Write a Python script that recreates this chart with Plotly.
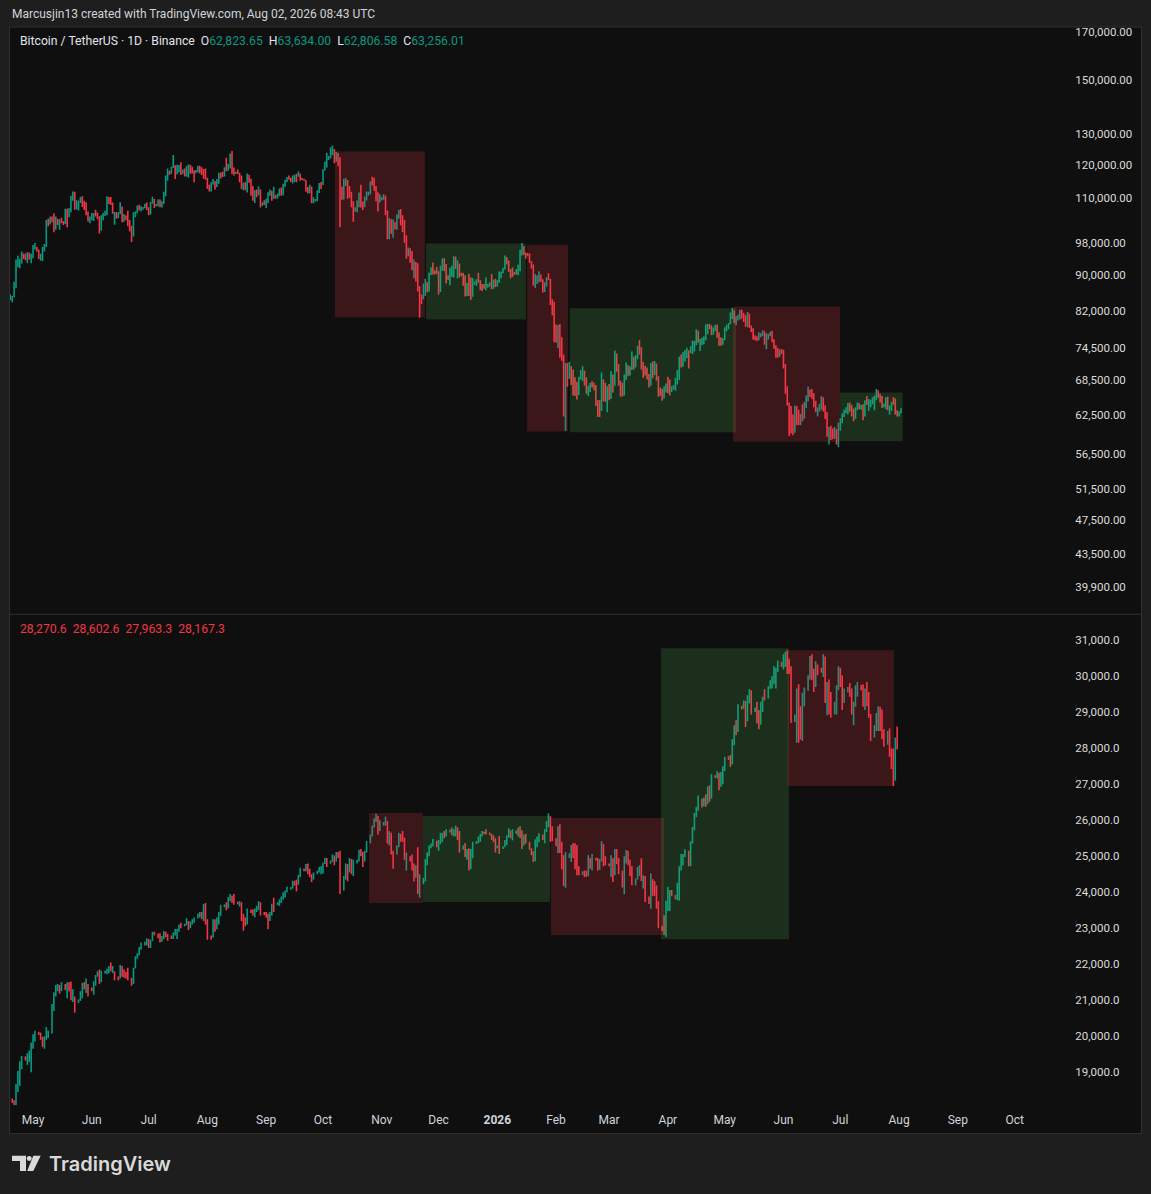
import numpy as np
import pandas as pd
import plotly.graph_objects as go

W, H = 1151, 1194

# ---------------------------------------------------------------
# Bitcoin / TetherUS, 1D, Binance   (thousands of USDT)
# one bar per day from 2025-04-19 to 2026-08-02, open = prior close
# ---------------------------------------------------------------
btc_start = "2025-04-19"
btc_first_open = 84.45

btc_close = [
    85.1, 85.2, 87.5, 93.4, 93.7, 93.9, 94.7, 94.6, 93.7, 95.0, 94.2, 94.3,
    96.5, 96.9, 95.9, 94.3, 94.7, 96.8, 97.0, 103.2, 102.9, 104.6, 104.1, 102.8, 104.1, 103.5, 103.7, 103.5, 103.1, 106.4, 105.6, 106.8, 109.7, 111.7, 107.3, 107.8, 109.0, 109.4, 108.9, 107.8, 105.6, 103.9, 104.6,
    105.7, 105.8, 105.4, 104.7, 101.5, 104.4, 105.6, 105.7, 110.3, 110.2, 108.6, 105.9, 106.0, 105.4, 105.6, 107.0, 104.6, 104.8, 104.6, 103.3, 102.1, 100.9, 105.4, 106.0, 107.3, 106.9, 107.1, 107.3, 108.4, 107.1,
    105.7, 108.8, 109.6, 108.0, 108.2, 109.2, 108.3, 108.9, 111.3, 115.9, 117.5, 117.4, 119.1, 119.8, 117.7, 118.7, 119.3, 117.9, 118.0, 117.3, 117.4, 119.9, 118.8, 118.4, 117.6, 117.9, 119.4, 118.0, 117.9, 117.8, 115.8,
    113.3, 112.5, 114.2, 115.0, 114.1, 115.0, 117.5, 116.6, 116.5, 119.3, 118.7, 120.2, 123.3, 118.3, 117.4, 117.5, 117.4, 116.2, 112.9, 114.3, 112.5, 116.9, 115.4, 113.5, 110.1, 111.8, 111.3, 112.6, 108.4, 108.8, 108.3,
    109.2, 111.2, 111.7, 110.7, 110.8, 110.2, 111.1, 112.1, 111.5, 113.9, 115.5, 116.1, 115.9, 115.3, 115.4, 116.8, 116.4, 117.1, 115.7, 115.6, 115.3, 112.7, 112.0, 113.3, 109.0, 109.6, 109.7, 112.1, 114.4, 114.0,
    118.6, 120.5, 122.2, 122.4, 123.5, 124.7, 121.4, 123.3, 121.7, 113.2, 110.6, 115.2, 115.3, 113.0, 110.7, 108.2, 106.4, 107.2, 108.6, 110.5, 108.4, 107.6, 110.1, 111.0, 111.6, 114.5, 114.1, 112.9, 110.0, 108.3, 109.6,
    110.1, 110.5, 106.5, 101.5, 103.9, 101.3, 103.3, 102.3, 104.7, 106.0, 103.0, 101.6, 99.7, 94.6, 95.5, 94.2, 92.2, 92.9, 91.5, 86.6, 85.1, 84.7, 86.8, 88.3, 87.3, 90.5, 91.3, 90.9, 90.8, 90.4,
    86.3, 91.3, 93.5, 92.1, 89.4, 89.3, 90.4, 90.6, 92.7, 92.0, 92.5, 90.3, 90.2, 88.2, 86.4, 87.8, 86.1, 85.5, 88.1, 88.3, 88.6, 88.5, 87.6, 87.5, 87.3, 87.4, 87.8, 87.9, 87.1, 88.4, 87.6,
    88.7, 90.0, 90.6, 91.5, 93.9, 93.7, 91.3, 91.0, 90.5, 90.4, 90.8, 91.2, 95.4, 97.0, 95.6, 95.4, 95.0, 93.5, 92.4, 88.3, 89.6, 89.9, 90.2, 89.0, 86.6, 88.0, 89.5, 89.2, 84.5, 83.7, 78.6,
    76.9, 78.6, 75.9, 73.0, 62.9, 70.5, 69.3, 70.6, 68.9, 67.3, 66.2, 66.0, 68.8, 69.8, 70.0, 68.6, 66.5, 66.9, 67.7, 67.6, 67.5, 64.6, 64.2, 63.2, 68.4, 67.4, 65.5, 66.8,
    65.9, 69.3, 68.0, 72.7, 70.9, 68.2, 67.6, 66.1, 68.5, 70.7, 70.0, 70.6, 72.3, 71.0, 72.6, 74.3, 73.9, 71.1, 69.8, 69.6, 69.0, 67.8, 70.9, 69.5, 71.3, 68.9, 66.4, 66.1, 65.5, 66.9, 67.6,
    66.7, 66.5, 67.1, 67.4, 68.5, 69.8, 72.2, 71.5, 73.2, 73.6, 74.0, 73.6, 74.5, 75.5, 75.7, 77.7, 76.0, 76.2, 76.4, 76.6, 78.7, 78.9, 78.4, 77.6, 78.3, 78.9, 77.0, 75.6, 75.2, 76.2,
    78.2, 78.8, 79.3, 81.2, 82.0, 80.2, 80.6, 81.0, 82.0, 81.0, 80.4, 79.1, 81.3, 79.0, 77.9, 76.7, 76.3, 76.1, 77.2, 77.3, 77.7, 75.9, 76.9, 77.1, 77.5, 76.0, 74.8, 73.1, 72.9, 73.9, 73.5,
    71.2, 66.8, 64.9, 60.5, 60.2, 59.8, 63.4, 61.6, 61.2, 62.4, 62.0, 64.2, 65.3, 66.6, 66.0, 65.6, 64.3, 63.4, 63.6, 64.1, 65.2, 63.6, 62.5, 59.7, 60.3, 59.2, 59.0, 60.1, 58.6, 60.9,
    61.6, 62.5, 63.1, 63.5, 64.1, 63.6, 62.8, 62.0, 63.5, 64.3, 63.8, 64.0, 62.4, 64.6, 64.5, 64.9, 65.0, 65.3, 65.5, 66.4, 65.8, 65.0, 64.0, 64.2, 65.2, 63.8, 64.0, 64.5, 64.4, 63.2, 62.6,
    62.82365, 63.25601,
]
btc_high = [
    85.6, 85.3, 88.5, 93.8, 94.7, 94.0, 95.8, 95.3, 95.3, 95.6, 95.5, 95.2,
    97.4, 97.9, 96.9, 96.3, 95.2, 96.9, 97.7, 104.0, 104.3, 104.9, 104.9, 105.8, 104.9, 104.3, 104.2, 104.6, 103.7, 107.1, 107.1, 107.3, 110.8, 112.0, 111.9, 109.5, 109.3, 110.4, 110.7, 109.3, 108.9, 106.3, 104.9,
    105.9, 105.9, 106.8, 106.0, 105.0, 105.3, 105.9, 106.5, 110.6, 110.4, 110.4, 108.8, 106.2, 106.2, 106.1, 108.9, 107.7, 105.6, 105.2, 106.5, 104.0, 102.4, 106.1, 106.3, 108.0, 108.2, 107.8, 107.6, 108.5, 108.8,
    107.5, 109.0, 110.5, 109.8, 108.4, 109.7, 109.7, 109.2, 111.9, 116.8, 118.9, 118.2, 119.5, 123.2, 119.9, 120.1, 120.0, 120.9, 118.6, 118.9, 119.7, 120.2, 120.1, 119.5, 118.4, 118.5, 119.8, 119.8, 119.3, 118.8, 118.9,
    116.1, 114.0, 114.7, 115.7, 115.1, 115.7, 117.6, 117.7, 117.9, 119.3, 122.3, 120.3, 123.7, 124.5, 119.2, 117.9, 118.6, 117.6, 116.8, 114.6, 114.8, 117.4, 117.0, 115.8, 113.6, 112.4, 112.6, 113.5, 112.6, 108.9, 109.5,
    109.9, 111.8, 112.6, 112.2, 113.4, 111.0, 111.4, 112.9, 113.2, 114.3, 115.5, 116.3, 116.8, 116.1, 116.8, 117.0, 117.3, 118.0, 117.4, 116.0, 115.8, 115.4, 113.3, 114.0, 113.5, 110.3, 109.8, 112.4, 114.5, 114.8,
    118.7, 121.0, 123.9, 122.9, 125.7, 126.2, 125.1, 124.2, 123.8, 122.5, 113.5, 115.8, 116.0, 115.4, 113.6, 111.9, 109.2, 107.5, 109.4, 111.7, 114.0, 109.1, 110.5, 112.0, 111.9, 115.0, 116.4, 116.1, 113.6, 111.8, 111.2,
    110.5, 111.2, 110.8, 106.6, 104.5, 104.2, 104.1, 103.4, 105.5, 106.7, 107.0, 105.3, 104.0, 99.9, 96.8, 96.6, 95.9, 93.8, 93.2, 92.9, 87.5, 85.6, 88.1, 89.2, 88.4, 90.6, 91.9, 93.1, 91.2, 92.0,
    91.0, 92.3, 94.1, 94.1, 92.7, 90.0, 91.8, 92.3, 94.6, 94.5, 93.6, 92.8, 90.6, 90.6, 90.0, 88.2, 90.4, 89.5, 89.4, 88.6, 89.1, 90.6, 88.9, 88.0, 88.0, 89.5, 88.0, 88.4, 90.3, 89.0, 89.2,
    88.9, 90.9, 90.9, 91.8, 94.8, 94.4, 93.6, 91.5, 91.9, 90.8, 91.5, 92.5, 96.2, 97.9, 97.1, 95.5, 95.4, 95.3, 93.4, 92.6, 90.3, 90.0, 91.0, 90.2, 89.1, 88.4, 89.6, 90.5, 89.2, 84.6, 84.0,
    79.2, 79.0, 79.3, 76.6, 73.2, 71.6, 71.6, 71.8, 71.0, 70.4, 69.0, 68.2, 69.1, 70.3, 71.0, 70.2, 69.0, 67.5, 68.0, 68.3, 68.0, 67.6, 65.0, 65.0, 69.9, 68.6, 68.0, 67.4,
    67.8, 70.1, 69.5, 74.0, 73.4, 71.4, 68.4, 68.0, 69.5, 71.7, 71.2, 71.0, 73.8, 72.8, 73.1, 74.9, 76.0, 74.6, 71.8, 71.1, 70.8, 69.6, 71.6, 71.9, 72.0, 71.5, 69.2, 67.2, 66.9, 67.4, 67.9,
    69.1, 68.6, 67.4, 67.6, 68.9, 70.3, 72.8, 73.2, 73.7, 74.1, 74.5, 74.0, 74.8, 75.9, 75.9, 78.2, 77.9, 76.3, 76.5, 76.8, 79.2, 79.3, 79.3, 79.0, 78.6, 79.1, 79.2, 77.6, 76.6, 76.4,
    78.6, 79.1, 79.5, 81.7, 82.7, 82.1, 80.9, 81.2, 82.3, 82.3, 81.6, 81.1, 81.8, 81.5, 79.0, 78.4, 77.0, 76.8, 77.6, 77.4, 78.0, 77.8, 77.4, 77.3, 77.7, 77.9, 76.2, 75.0, 74.5, 74.2, 74.3,
    74.1, 71.4, 67.4, 64.6, 64.0, 62.6, 64.1, 64.0, 63.4, 62.7, 64.3, 64.7, 65.8, 67.3, 66.8, 66.9, 66.2, 64.9, 63.8, 64.4, 65.7, 65.5, 64.1, 63.0, 60.6, 60.8, 60.4, 60.6, 60.3, 61.3,
    62.0, 62.8, 63.4, 63.8, 64.5, 64.6, 64.2, 63.6, 63.8, 64.6, 64.5, 64.2, 64.3, 65.0, 65.7, 65.2, 65.1, 65.5, 65.8, 66.9, 66.7, 66.1, 65.7, 64.4, 65.5, 65.6, 64.1, 64.7, 65.5, 65.3, 63.3,
    63.1, 63.634,
]
btc_low = [
    84.4, 83.9, 85.0, 87.0, 91.9, 91.7, 92.8, 93.9, 93.6, 92.9, 93.8, 92.9,
    94.1, 96.3, 95.7, 93.9, 93.5, 93.4, 95.8, 96.9, 102.3, 102.8, 103.4, 100.7, 101.4, 102.6, 101.4, 103.1, 102.6, 102.9, 102.0, 104.7, 106.1, 109.3, 106.8, 106.9, 106.6, 108.7, 107.6, 106.7, 105.3, 103.6, 103.1,
    103.9, 103.7, 104.9, 104.2, 100.4, 101.1, 103.9, 105.1, 105.3, 108.4, 108.1, 105.7, 102.7, 104.3, 104.5, 105.6, 103.4, 103.5, 103.9, 102.3, 100.9, 98.2, 99.6, 104.7, 105.8, 106.6, 106.4, 106.8, 107.2, 106.7,
    105.3, 105.5, 108.5, 107.3, 107.8, 107.8, 107.5, 107.4, 108.4, 110.6, 115.2, 116.9, 117.3, 119.1, 115.7, 117.1, 117.7, 116.9, 117.3, 116.5, 116.5, 116.1, 117.3, 117.4, 114.7, 117.5, 117.8, 117.4, 116.9, 115.8, 115.5,
    112.7, 112.0, 112.0, 114.1, 112.6, 113.3, 114.3, 115.9, 116.3, 116.5, 118.1, 118.2, 118.9, 117.2, 116.8, 117.2, 117.2, 114.7, 112.7, 112.4, 112.4, 111.7, 114.6, 110.8, 109.3, 108.7, 110.3, 110.9, 107.4, 107.9, 108.1,
    107.3, 108.7, 110.8, 109.3, 109.9, 109.9, 110.0, 110.6, 110.8, 110.9, 113.4, 114.8, 115.5, 114.8, 114.4, 114.8, 114.7, 116.4, 115.2, 115.4, 115.2, 111.9, 111.4, 111.5, 108.6, 108.6, 109.1, 109.2, 111.6, 112.7,
    113.9, 118.3, 119.2, 121.6, 122.1, 123.1, 120.6, 121.0, 119.6, 102.0, 109.6, 109.7, 113.6, 109.9, 110.2, 107.5, 103.5, 106.3, 106.1, 107.5, 107.4, 106.7, 107.5, 109.4, 110.8, 111.2, 113.8, 112.2, 109.2, 106.3, 108.8,
    109.4, 109.6, 105.3, 98.9, 98.9, 100.3, 99.3, 101.5, 101.4, 104.3, 102.5, 100.8, 98.0, 94.0, 94.6, 93.0, 91.2, 89.3, 88.6, 86.3, 80.6, 83.5, 84.6, 85.3, 86.1, 86.3, 90.1, 90.2, 90.2, 90.3,
    85.6, 86.2, 91.1, 91.0, 88.1, 88.9, 87.7, 89.6, 89.5, 91.5, 89.3, 89.5, 89.8, 87.6, 85.2, 85.3, 85.3, 84.4, 85.1, 87.8, 87.6, 88.3, 86.6, 86.4, 86.9, 86.6, 87.2, 87.4, 86.8, 86.9, 87.3,
    87.4, 88.3, 89.3, 90.5, 91.4, 92.6, 90.8, 89.3, 89.6, 90.1, 90.2, 90.0, 91.0, 94.8, 94.9, 94.0, 94.6, 93.0, 91.6, 87.6, 87.1, 88.0, 88.4, 88.5, 86.0, 86.2, 87.4, 88.9, 83.3, 81.1, 75.6,
    75.5, 74.4, 72.6, 72.0, 62.3, 60.0, 67.3, 68.7, 67.6, 65.8, 65.7, 65.1, 65.9, 68.6, 68.3, 67.5, 66.1, 65.7, 66.4, 67.2, 66.7, 64.0, 62.2, 62.2, 63.2, 64.8, 64.7, 63.0,
    65.0, 65.2, 66.3, 67.5, 70.0, 67.5, 65.6, 65.6, 65.8, 68.5, 69.2, 69.3, 70.3, 70.4, 70.8, 72.3, 73.2, 70.4, 68.9, 69.3, 68.6, 67.2, 67.5, 68.8, 69.4, 68.4, 65.6, 65.7, 64.9, 65.3, 66.3,
    66.2, 65.8, 66.4, 66.8, 66.6, 67.7, 68.5, 70.8, 70.9, 71.9, 72.5, 70.6, 73.5, 73.3, 73.8, 75.0, 75.5, 73.9, 75.0, 75.2, 76.0, 77.2, 78.2, 77.0, 77.1, 77.8, 76.5, 74.9, 74.9, 75.1,
    76.0, 77.8, 78.2, 79.2, 80.3, 79.5, 79.0, 80.0, 80.2, 80.4, 79.7, 78.7, 78.6, 78.5, 77.6, 76.1, 76.0, 75.8, 76.0, 76.6, 76.8, 75.1, 74.2, 76.1, 76.8, 75.6, 74.3, 72.6, 72.6, 72.8, 73.3,
    70.6, 66.1, 64.1, 59.2, 59.6, 59.3, 59.7, 60.9, 60.9, 60.9, 61.5, 61.9, 63.7, 64.8, 65.6, 65.2, 63.8, 63.0, 62.3, 63.1, 63.4, 63.1, 61.9, 59.1, 57.9, 58.6, 58.7, 58.8, 57.9, 57.5,
    60.0, 61.2, 62.2, 62.8, 62.6, 63.1, 62.3, 61.5, 61.9, 63.3, 63.5, 63.4, 61.7, 62.3, 64.2, 63.2, 63.8, 64.3, 63.3, 65.0, 65.4, 64.6, 63.7, 63.8, 63.5, 63.3, 62.6, 63.2, 64.2, 62.6, 62.3,
    62.3, 62.80658,
]

# ---------------------------------------------------------------
# lower pane, index CFD (thousands of points)
# six daily bars a week (Sun..Fri), 2025-04-20 to 2026-07-31
# ---------------------------------------------------------------
ndx_start, ndx_end = "2025-04-20", "2026-07-31"
ndx_first_open = 18.26

ndx_close = [
    18.20, 17.82, 18.62, 18.75, 19.25, 19.43,  19.34, 19.42, 19.55, 19.70, 19.84, 20.10,
    20.05, 19.98, 19.79, 19.87, 20.06, 20.07,  20.85, 21.15, 21.35, 21.38, 21.33, 21.45,
    21.30, 21.46, 21.38, 21.10, 21.12, 20.92,  21.00, 21.20, 21.42, 21.33, 21.37, 21.34,
    21.28, 21.49, 21.65, 21.72, 21.55, 21.76,  21.78, 21.80, 21.91, 21.86, 21.92, 21.63,
    21.60, 21.94, 21.72, 21.71, 21.70, 21.63,  21.50, 21.88, 22.19, 22.24, 22.45, 22.53,
    22.58, 22.68, 22.54, 22.64, 22.87, 22.84,  22.80, 22.69, 22.70, 22.87, 22.83, 22.78,
    22.72, 22.86, 22.88, 22.93, 23.08, 23.07,  23.08, 23.19, 23.06, 23.16, 23.22, 23.27,
    23.36, 23.37, 23.31, 23.58, 23.22, 22.76,  22.74, 23.22, 22.97, 23.27, 23.34, 23.61,
    23.62, 23.55, 23.84, 23.85, 23.84, 23.71,  23.70, 23.71, 23.38, 23.25, 23.14, 23.50,
    23.45, 23.40, 23.52, 23.58, 23.70, 23.42,  23.40, 23.35, 23.23, 23.42, 23.66, 23.65,
    23.68, 23.76, 23.84, 23.85, 24.01, 24.09,  24.10, 24.28, 24.25, 24.20, 24.42, 24.63,
    24.62, 24.76, 24.58, 24.50, 24.42, 24.50,  24.55, 24.61, 24.68, 24.79, 24.87, 24.79,
    24.84, 24.98, 24.85, 25.10, 25.03, 24.05,  24.35, 24.74, 24.58, 24.76, 24.66, 24.82,
    24.86, 25.14, 25.11, 24.87, 25.10, 25.36,  25.55, 25.82, 26.01, 26.10, 25.74, 25.86,
    25.90, 25.97, 25.44, 25.62, 25.13, 25.06,  25.25, 25.61, 25.53, 25.52, 24.99, 25.01,
    24.90, 24.80, 24.50, 24.64, 24.05, 24.24,  24.30, 24.87, 25.02, 25.24, 25.30, 25.43,
    25.30, 25.34, 25.56, 25.61, 25.58, 25.69,  25.70, 25.63, 25.67, 25.78, 25.69, 25.20,
    25.25, 25.07, 25.13, 24.65, 25.02, 25.35,  25.38, 25.46, 25.59, 25.66, 25.65, 25.64,
    25.62, 25.52, 25.46, 25.25, 25.26, 25.21,
    25.25, 25.40, 25.55, 25.70, 25.55, 25.72,  25.65, 25.75, 25.60, 25.35, 25.50, 25.40,
    25.22, 25.10, 24.90, 25.35, 25.50, 25.58,  25.55, 25.70, 25.92, 26.10, 25.60, 25.50,
    25.35, 25.70, 25.25, 24.75, 24.30, 24.95,  25.05, 25.20, 25.05, 24.80, 24.55, 24.50,
    24.55, 24.50, 24.45, 24.90, 24.70, 24.95,  24.90, 24.70, 24.85, 25.30, 24.90, 24.80,
    24.75, 24.95, 24.50, 25.05, 24.90, 24.60,  24.20, 24.90, 25.10, 24.90, 24.55, 24.25,
    24.35, 24.55, 24.62, 24.40, 24.45, 23.85,  23.82, 24.35, 24.05, 24.00, 23.65, 23.05,
    23.00, 22.90, 23.60, 23.95, 24.00, 23.92,  23.85, 24.20, 24.60, 25.00, 25.02, 25.15,
    24.80, 25.35, 25.75, 26.15, 26.30, 26.60,  26.42, 26.58, 26.45, 26.85, 26.60, 27.20,
    27.19, 27.30, 26.95, 27.25, 27.45, 27.70,  27.68, 27.55, 28.15, 28.55, 28.45, 29.15,
    29.10, 29.28, 28.75, 29.35, 29.55, 29.05,  29.10, 28.85, 28.65, 29.20, 29.40, 29.38,
    29.65, 29.80, 29.95, 30.20, 30.22, 30.40,  30.30, 30.55, 30.62, 30.20, 30.10, 28.80,
    28.90, 29.50, 28.40, 28.35, 29.45, 29.60,  29.95, 30.50, 30.00, 29.70, 30.30, 30.15,
    30.13, 30.50, 29.40, 29.70, 29.10, 28.95,  29.20, 29.65, 30.20, 29.85, 29.30, 29.55,
    29.65, 29.50, 29.00, 29.20, 29.60, 29.75,  29.65, 29.30, 29.55, 29.25, 28.95, 28.30,
    28.60, 28.90, 29.10, 28.60, 28.35, 28.10,  28.42, 27.85, 27.50, 27.10, 28.2706, 28.1673,
]
ndx_high = [
    18.27, 18.22, 18.67, 19.03, 19.30, 19.45,  19.44, 19.53, 19.60, 19.82, 20.05, 20.15,
    20.12, 20.10, 19.98, 20.00, 20.25, 20.15,  20.89, 21.22, 21.42, 21.45, 21.42, 21.50,
    21.45, 21.50, 21.50, 21.52, 21.30, 21.10,  21.02, 21.25, 21.48, 21.50, 21.60, 21.45,
    21.35, 21.52, 21.70, 21.80, 21.85, 21.82,  21.82, 21.87, 21.95, 22.05, 21.95, 21.80,
    21.66, 21.98, 21.95, 21.85, 21.78, 21.90,  21.62, 21.90, 22.22, 22.30, 22.48, 22.60,
    22.62, 22.72, 22.70, 22.68, 22.90, 22.90,  22.85, 22.86, 22.78, 22.92, 22.90, 22.84,
    22.80, 22.88, 22.98, 22.98, 23.10, 23.15,  23.12, 23.28, 23.20, 23.18, 23.25, 23.30,
    23.40, 23.45, 23.45, 23.67, 23.70, 23.25,  22.80, 23.25, 23.25, 23.30, 23.45, 23.65,
    23.66, 23.72, 23.86, 23.95, 23.90, 23.95,  23.74, 23.75, 23.72, 23.40, 23.30, 23.55,
    23.52, 23.52, 23.55, 23.62, 23.75, 23.72,  23.45, 23.45, 23.40, 23.45, 23.68, 23.85,
    23.72, 23.80, 23.88, 24.00, 24.05, 24.15,  24.14, 24.32, 24.32, 24.35, 24.48, 24.68,
    24.66, 24.78, 24.80, 24.65, 24.50, 24.55,  24.60, 24.70, 24.72, 24.82, 24.95, 24.95,
    24.88, 25.05, 25.02, 25.12, 25.12, 25.15,  24.45, 24.80, 24.78, 24.95, 24.92, 24.90,
    24.90, 25.18, 25.20, 25.12, 25.15, 25.42,  25.60, 25.85, 26.05, 26.18, 26.12, 26.00,
    25.95, 26.10, 25.98, 25.70, 25.65, 25.15,  25.30, 25.65, 25.62, 25.70, 25.52, 25.10,
    25.00, 25.05, 24.80, 24.75, 25.25, 24.50,  24.40, 24.92, 25.10, 25.30, 25.35, 25.48,
    25.43, 25.45, 25.65, 25.65, 25.70, 25.75,  25.74, 25.80, 25.75, 25.85, 25.80, 25.70,
    25.30, 25.37, 25.20, 25.22, 25.20, 25.40,  25.42, 25.55, 25.62, 25.70, 25.68, 25.75,
    25.66, 25.62, 25.58, 25.50, 25.30, 25.56,
    25.28, 25.45, 25.58, 25.78, 25.72, 25.75,  25.72, 25.80, 25.83, 25.72, 25.60, 25.62,
    25.40, 25.22, 25.14, 25.47, 25.55, 25.64,  25.60, 25.75, 25.98, 26.19, 26.11, 25.83,
    25.50, 25.83, 25.89, 25.40, 25.03, 25.12,  25.08, 25.31, 25.36, 25.36, 25.31, 24.72,
    24.58, 24.60, 24.60, 25.03, 24.95, 25.06,  24.96, 24.95, 24.92, 25.42, 25.34, 25.00,
    24.80, 25.03, 24.94, 25.20, 25.20, 24.95,  24.60, 25.00, 25.17, 25.15, 24.90, 24.72,
    24.38, 24.70, 24.75, 24.94, 24.47, 24.45,  23.88, 24.52, 24.36, 24.31, 24.19, 23.75,
    23.06, 23.36, 23.76, 24.15, 24.06, 24.06,  23.92, 24.26, 24.72, 25.06, 25.06, 25.19,
    25.15, 25.42, 25.81, 26.20, 26.37, 26.69,  26.60, 26.63, 26.72, 26.94, 26.97, 27.28,
    27.25, 27.36, 27.32, 27.34, 27.50, 27.76,  27.78, 27.81, 28.25, 28.64, 28.78, 29.22,
    29.18, 29.33, 29.31, 29.47, 29.64, 29.61,  29.13, 29.29, 29.06, 29.29, 29.43, 29.64,
    29.72, 29.89, 30.00, 30.28, 30.24, 30.44,  30.40, 30.61, 30.68, 30.72, 30.49, 30.28,
    28.94, 29.66, 29.78, 29.17, 29.54, 29.69,  30.03, 30.56, 30.61, 30.21, 30.42, 30.33,
    30.24, 30.61, 30.55, 29.84, 29.91, 29.56,  29.29, 29.75, 30.28, 30.24, 30.03, 29.66,
    29.70, 29.81, 29.66, 29.29, 29.75, 29.84,  29.76, 29.78, 29.66, 29.84, 29.56, 28.95,
    28.64, 28.98, 29.17, 29.15, 29.08, 28.53,  28.48, 28.55, 27.99, 27.99, 28.30, 28.6026,
]
ndx_low = [
    18.15, 17.60, 17.85, 18.45, 18.62, 19.08,  19.32, 19.20, 19.28, 19.00, 19.65, 19.85,
    20.03, 19.90, 19.70, 19.65, 19.90, 19.95,  20.07, 20.70, 21.10, 21.25, 21.18, 21.25,
    21.28, 21.05, 21.25, 21.00, 20.95, 20.65,  20.92, 20.98, 21.05, 21.30, 21.20, 21.10,
    21.25, 21.15, 21.40, 21.65, 21.45, 21.50,  21.74, 21.72, 21.75, 21.80, 21.75, 21.55,
    21.55, 21.60, 21.65, 21.62, 21.60, 21.55,  21.40, 21.45, 21.88, 22.15, 22.24, 22.40,
    22.52, 22.52, 22.45, 22.45, 22.64, 22.80,  22.72, 22.60, 22.62, 22.70, 22.75, 22.65,
    22.70, 22.70, 22.80, 22.70, 22.90, 23.00,  23.05, 23.08, 22.95, 23.00, 23.10, 23.15,
    23.27, 23.30, 23.25, 23.20, 23.10, 22.68,  22.68, 22.74, 22.90, 22.97, 23.10, 23.34,
    23.58, 23.50, 23.55, 23.75, 23.70, 23.65,  23.66, 23.60, 23.20, 22.93, 23.05, 23.10,
    23.42, 23.35, 23.30, 23.45, 23.50, 23.35,  23.36, 23.30, 22.97, 23.20, 23.35, 23.45,
    23.64, 23.62, 23.70, 23.80, 23.85, 24.00,  24.07, 24.10, 24.18, 24.02, 24.20, 24.42,
    24.58, 24.58, 24.50, 24.42, 24.28, 24.35,  24.50, 24.55, 24.50, 24.52, 24.78, 24.70,
    24.79, 24.84, 24.75, 24.85, 24.95, 23.95,  24.05, 24.35, 24.30, 24.55, 24.50, 24.45,
    24.80, 24.85, 25.00, 24.70, 24.85, 25.10,  25.36, 25.55, 25.80, 25.95, 25.60, 25.70,
    25.85, 25.85, 25.35, 25.30, 25.05, 24.65,  25.05, 25.25, 25.40, 25.40, 24.90, 24.60,
    24.85, 24.60, 24.30, 24.40, 23.95, 23.85,  24.22, 24.30, 24.75, 25.00, 25.22, 25.28,
    25.25, 25.15, 25.34, 25.40, 25.50, 25.55,  25.66, 25.58, 25.55, 25.55, 25.45, 25.10,
    25.18, 24.98, 24.90, 24.60, 24.64, 24.94,  25.34, 25.36, 25.40, 25.55, 25.62, 25.60,
    25.58, 25.45, 25.39, 25.10, 25.22, 25.06,
    25.20, 25.25, 25.31, 25.52, 25.50, 25.44,  25.62, 25.55, 25.50, 25.20, 25.30, 25.35,
    25.18, 25.03, 24.84, 24.86, 25.25, 25.39,  25.45, 25.36, 25.67, 25.81, 25.40, 25.42,
    25.28, 25.08, 25.09, 24.64, 24.17, 24.12,  24.95, 24.84, 24.95, 24.64, 24.47, 24.47,
    24.48, 24.42, 24.42, 24.45, 24.65, 24.60,  24.88, 24.60, 24.62, 24.85, 24.72, 24.75,
    24.72, 24.42, 24.28, 24.47, 24.78, 24.50,  24.13, 23.94, 24.80, 24.75, 24.44, 24.19,
    24.19, 24.35, 24.45, 24.31, 24.10, 23.73,  23.67, 23.54, 23.89, 23.90, 23.54, 23.00,
    22.92, 22.81, 22.76, 23.48, 23.48, 23.89,  23.80, 23.78, 23.76, 24.60, 24.75, 24.98,
    24.72, 24.72, 25.35, 25.72, 26.09, 26.26,  26.35, 26.39, 26.37, 26.45, 26.51, 26.60,
    27.18, 27.16, 26.83, 26.93, 27.00, 27.37,  27.67, 27.48, 27.55, 28.08, 28.36, 28.45,
    29.08, 29.10, 28.59, 28.75, 29.24, 28.94,  29.01, 28.69, 28.53, 28.65, 29.01, 29.33,
    29.38, 29.65, 29.66, 29.78, 29.66, 30.12,  30.26, 30.19, 30.26, 30.06, 30.06, 28.70,
    28.73, 28.15, 28.15, 28.24, 28.20, 29.17,  29.60, 29.91, 29.89, 29.56, 29.70, 30.03,
    30.10, 29.98, 29.26, 28.92, 28.94, 28.85,  28.94, 28.94, 29.61, 29.70, 29.06, 29.26,
    29.55, 29.43, 28.94, 28.64, 29.15, 29.43,  29.61, 29.15, 29.06, 29.17, 28.85, 28.20,
    28.30, 28.48, 28.48, 28.48, 28.25, 28.04,  28.10, 27.76, 27.42, 26.95, 27.10, 27.9633,
]

# shaded ranges drawn on the chart: start, end, low, high (thousands)
btc_boxes = [
    ("2025-10-07 07:00", "2025-11-23 19:00", 80.7, 124.3, "red"),
    ("2025-11-24 10:00", "2026-01-16 02:00", 80.2, 97.8, "green"),
    ("2026-01-16 17:00", "2026-02-07 07:00", 59.9, 97.5, "red"),
    ("2026-02-08 07:00", "2026-05-06 22:00", 59.8, 82.6, "green"),
    ("2026-05-05 10:00", "2026-06-30 19:00", 58.3, 83.0, "red"),
    ("2026-06-30 21:00", "2026-08-02 22:00", 58.4, 66.3, "green"),
]
ndx_boxes = [
    ("2025-10-25 07:00", "2025-11-22 14:00", 23.70, 26.20, "red"),
    ("2025-11-22 14:00", "2026-01-28 19:00", 23.73, 26.12, "green"),
    ("2026-01-29 07:00", "2026-03-29 22:00", 22.81, 26.06, "red"),
    ("2026-03-28 10:00", "2026-06-03 22:00", 22.69, 30.78, "green"),
    ("2026-06-03 05:00", "2026-07-29 07:00", 26.95, 30.72, "red"),
]

btc_ticks = [170000, 150000, 130000, 120000, 110000, 98000, 90000, 82000,
             74500, 68500, 62500, 56500, 51500, 47500, 43500, 39900]
ndx_ticks = list(range(19000, 31001, 1000))
month_ticks = pd.date_range("2025-05-01", "2026-10-01", freq="MS")

# ---------------------------------------------------------------
UP, DOWN = "#089981", "#f23645"
BOX_FILL = {"red": "rgba(242,54,69,0.2)", "green": "rgba(76,175,80,0.2)"}
TXT = "#d1d4dc"
FONT = "Roboto"

# pixel layout of the screenshot
PLOT_L, PLOT_R = 10, 1066
TOP_T, TOP_B = 28, 613
BOT_T, BOT_B = 615, 1105
X0_PX, PX_PER_DAY = 10.3, 1.895          # 2025-04-19 sits at x=10.3


def fx(px):
    return px / W


def fy(py):
    # the photographed page comes out slightly squeezed at the top,
    # so vertical positions are pre-corrected
    return 1 - ((py - 3.5) / 0.997) / H


def px_date(px):
    return pd.Timestamp(btc_start) + pd.Timedelta(days=(px - X0_PX) / PX_PER_DAY)


def btc_at(py):
    return 170000 * np.exp((31 - py) / 383.6)


def ndx_at(py):
    return 31000 - (py - 640) / 0.036


btc_x = pd.date_range(btc_start, periods=len(btc_close), freq="D")
assert btc_x[-1] == pd.Timestamp("2026-08-02")
btc_c = np.array(btc_close) * 1000
btc_o = np.concatenate([[btc_first_open * 1000], btc_c[:-1]])

ndx_days = pd.date_range(ndx_start, ndx_end, freq="D")
ndx_x = ndx_days[ndx_days.dayofweek != 5]
assert len(ndx_x) == len(ndx_close) == len(ndx_high) == len(ndx_low)
ndx_c = np.array(ndx_close) * 1000
ndx_o = np.concatenate([[ndx_first_open * 1000], ndx_c[:-1]])

fig = go.Figure()

fig.add_trace(go.Ohlc(
    x=btc_x, open=btc_o, high=np.array(btc_high) * 1000,
    low=np.array(btc_low) * 1000, close=btc_c,
    xaxis="x2", yaxis="y", tickwidth=0,
    increasing=dict(line=dict(color=UP, width=1.6)),
    decreasing=dict(line=dict(color=DOWN, width=1.6)),
    hoverinfo="skip", showlegend=False,
))
fig.add_trace(go.Ohlc(
    x=ndx_x, open=ndx_o, high=np.array(ndx_high) * 1000,
    low=np.array(ndx_low) * 1000, close=ndx_c,
    xaxis="x", yaxis="y2", tickwidth=0,
    increasing=dict(line=dict(color=UP, width=1.6)),
    decreasing=dict(line=dict(color=DOWN, width=1.6)),
    hoverinfo="skip", showlegend=False,
))

for boxes, xa, ya in [(btc_boxes, "x2", "y"), (ndx_boxes, "x", "y2")]:
    for t0, t1, lo, hi, col in boxes:
        fig.add_trace(go.Scatter(
            x=[t0, t1, t1, t0, t0],
            y=[lo * 1000, lo * 1000, hi * 1000, hi * 1000, lo * 1000],
            xaxis=xa, yaxis=ya, mode="lines", fill="toself",
            fillcolor=BOX_FILL[col], line=dict(width=0),
            hoverinfo="skip", showlegend=False,
        ))

x_range = [px_date(PLOT_L), px_date(PLOT_R)]
tick_text = ["<b>2026</b>" if d.month == 1 else d.strftime("%b") for d in month_ticks]
axis_font = dict(family=FONT, size=12, color=TXT)

fig.update_layout(
    width=W, height=H,
    margin=dict(l=0, r=0, t=0, b=0),
    paper_bgcolor="#1e1e1e",
    plot_bgcolor="rgba(0,0,0,0)",
    font=dict(family=FONT, color=TXT),
    xaxis=dict(
        domain=[fx(PLOT_L), fx(PLOT_R)], anchor="y2", type="date",
        range=x_range, tickvals=month_ticks, ticktext=tick_text,
        ticks="outside", ticklen=3, tickcolor="rgba(0,0,0,0)",
        tickfont=axis_font, showgrid=False, zeroline=False, showline=False,
        rangeslider=dict(visible=False), fixedrange=True,
    ),
    xaxis2=dict(
        domain=[fx(PLOT_L), fx(PLOT_R)], anchor="y", type="date",
        matches="x", showticklabels=False, showgrid=False, zeroline=False,
        rangeslider=dict(visible=False), fixedrange=True,
    ),
    yaxis=dict(
        domain=[fy(TOP_B), fy(TOP_T)], anchor="x2", side="right", type="log",
        range=[np.log10(btc_at(TOP_B)), np.log10(btc_at(TOP_T))],
        tickvals=btc_ticks, ticktext=[f"{v:,.2f}" for v in btc_ticks],
        ticks="outside", ticklen=6, tickcolor="rgba(0,0,0,0)",
        tickfont=dict(family=FONT, size=11.5, color="#dcdcdc"),
        showgrid=False, zeroline=False, showline=False, fixedrange=True,
    ),
    yaxis2=dict(
        domain=[fy(BOT_B), fy(BOT_T)], anchor="x", side="right",
        range=[ndx_at(BOT_B), ndx_at(BOT_T)],
        tickvals=ndx_ticks, ticktext=[f"{v:,.1f}" for v in ndx_ticks],
        ticks="outside", ticklen=6, tickcolor="rgba(0,0,0,0)",
        tickfont=dict(family=FONT, size=11.5, color="#dcdcdc"),
        showgrid=False, zeroline=False, showline=False, fixedrange=True,
    ),
)

# chart frame, pane separator
shapes = [
    dict(type="rect", xref="paper", yref="paper", layer="below",
         x0=fx(9.5), x1=fx(1141.5), y0=fy(1133.5), y1=fy(26.5),
         fillcolor="#0f0f0f", line=dict(color="#303030", width=1)),
    dict(type="line", xref="paper", yref="paper", layer="above",
         x0=fx(10), x1=fx(1141), y0=fy(614), y1=fy(614),
         line=dict(color="#2e2e2e", width=1)),
]


# TradingView mark at the bottom left
def ppath(points):
    return "M " + " L ".join(f"{fx(a)},{fy(b)}" for a, b in points) + " Z"


LOGO = "#d9d9d9"
shapes += [
    dict(type="path", xref="paper", yref="paper", fillcolor=LOGO, line=dict(width=0),
         path=ppath([(12, 1155.7), (26, 1155.7), (26, 1171), (20, 1171), (20, 1161), (12, 1161)])),
    dict(type="circle", xref="paper", yref="paper", fillcolor=LOGO, line=dict(width=0),
         x0=fx(26.7), x1=fx(31.7), y0=fy(1161), y1=fy(1156)),
    dict(type="path", xref="paper", yref="paper", fillcolor=LOGO, line=dict(width=0),
         path=ppath([(33.3, 1155.7), (40.7, 1155.7), (33.3, 1171), (27.2, 1171)])),
]
fig.update_layout(shapes=shapes)


def green(v):
    return f"<span style='color:{UP}'>{v:,.2f}</span>"


sp = "&nbsp;&nbsp;"
last_o, last_h = btc_o[-1], btc_high[-1] * 1000
last_l, last_c = btc_low[-1] * 1000, btc_c[-1]
top_legend = ("Bitcoin / TetherUS · 1D · Binance" + sp + "O" + green(last_o) + sp + "H" + green(last_h)
              + sp + "L" + green(last_l) + sp + "C" + green(last_c))
bot_vals = [ndx_o[-1], ndx_high[-1] * 1000, ndx_low[-1] * 1000, ndx_c[-1]]
bot_legend = sp.join(f"{v:,.1f}" for v in bot_vals)

ann = [
    dict(x=fx(10), y=fy(14), text="Marcusjin13 created with TradingView.com, Aug 02, 2026 08:43 UTC",
         font=dict(family=FONT, size=12, color=TXT)),
    dict(x=fx(18), y=fy(41), text=top_legend, font=dict(family=FONT, size=12.2, color="#e0e3eb")),
    dict(x=fx(18), y=fy(629), text=bot_legend, font=dict(family=FONT, size=12.2, color=DOWN)),
    dict(x=fx(47), y=fy(1164), text="TradingView",
         font=dict(family="Inter", size=20, color=LOGO, weight=600)),
]
for a in ann:
    a.update(xref="paper", yref="paper", xanchor="left", yanchor="middle", showarrow=False)
fig.update_layout(annotations=ann)

# pin the graph to the top-left corner of the window
pin = ("document.body.style.margin='0';document.body.style.overflow='hidden';"
       "var gd=document.getElementById('{plot_id}');gd.style.position='fixed';"
       "gd.style.left='0px';gd.style.top='0px';")
fig.write_html("out.html", config={"displayModeBar": False}, post_script=pin)
